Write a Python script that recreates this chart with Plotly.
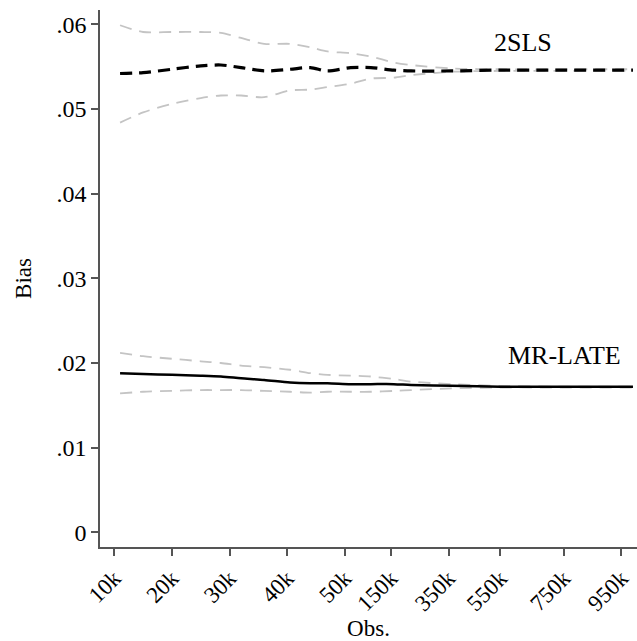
import plotly.graph_objects as go

# x positions (axis units) of the sampled points and tick labels
x_pos = [0.1, 0.5, 1.0, 1.5, 1.85, 2.2, 2.6, 3.05, 3.4, 3.7, 4.1, 4.45, 4.85, 5.15, 5.85, 6.7, 7.75, 9.0]
tick_pos = [0, 1, 2, 3, 4, 4.8, 5.8, 6.7, 7.8, 8.8]
tick_labels = ["10k", "20k", "30k", "40k", "50k", "150k", "350k", "550k", "750k", "950k"]

tsls_mid = [.0542, .0543, .0547, .0551, .0552, .0549, .0545, .0547, .0549, .0545, .0549, .0549, .0546, .0545, .0545, .0546, .0546, .0546]
tsls_hi = [.0599, .0591, .0591, .0591, .0590, .0584, .0577, .0577, .0573, .0568, .0566, .0562, .0555, .0552, .0548, .0547, .0547, .0547]
tsls_lo = [.0484, .0496, .0506, .0513, .0516, .0516, .0514, .0522, .0523, .0526, .0530, .0536, .0537, .0540, .0544, .0545, .0545, .0545]

mr_mid = [.0188, .0187, .0186, .0185, .0184, .0182, .0180, .0177, .0176, .0176, .0175, .0175, .0175, .0174, .0173, .0172, .0172, .0172]
mr_hi = [.0212, .0208, .0205, .0202, .0200, .0197, .0195, .0192, .0188, .0186, .0185, .0184, .0181, .0178, .0175, .0173, .0172, .0172]
mr_lo = [.0164, .0166, .0167, .0168, .0168, .0168, .0167, .0166, .0165, .0166, .0166, .0166, .0167, .0168, .0170, .0171, .0171, .0171]

y_ticks = [0, 0.01, 0.02, 0.03, 0.04, 0.05, 0.06]
y_tick_labels = ["0", ".01", ".02", ".03", ".04", ".05", ".06"]

FONT = "Liberation Serif"
GRAY = "#c4c4c4"
AXC = "#555555"

fig = go.Figure()

def add(y, color, width, dash):
    fig.add_trace(go.Scatter(x=x_pos, y=y, mode="lines",
                             line=dict(color=color, width=width, dash=dash, shape="spline", smoothing=0.8),
                             showlegend=False, hoverinfo="skip"))

add(tsls_hi, GRAY, 1.8, "12px,8px")
add(tsls_lo, GRAY, 1.8, "12px,8px")
add(mr_hi, GRAY, 1.8, "12px,8px")
add(mr_lo, GRAY, 1.8, "12px,8px")
add(tsls_mid, "black", 3.2, "12px,7px")
add(mr_mid, "black", 2.5, "solid")

fig.add_annotation(x=7.09, y=0.0579, text="2SLS", showarrow=False,
                   font=dict(family=FONT, size=26, color="black"))
fig.add_annotation(x=7.82, y=0.0209, text="MR-LATE", showarrow=False,
                   font=dict(family=FONT, size=26, color="black"))

fig.update_layout(
    width=637, height=641,
    margin=dict(l=100, r=0, t=10, b=94, autoexpand=False),
    paper_bgcolor="white", plot_bgcolor="white",
    font=dict(family=FONT, size=22, color="black"),
    xaxis=dict(range=[-0.248, 9.07], tickmode="array", tickvals=tick_pos, ticktext=tick_labels,
               tickangle=-45, showgrid=False, zeroline=False, showline=True, linecolor=AXC,
               linewidth=1.5, ticks="outside", ticklen=7, tickcolor=AXC, tickwidth=1.5,
               automargin=False,
               title=dict(text="Obs.", standoff=0, font=dict(family=FONT, size=23)),
               tickfont=dict(family=FONT, size=23)),
    yaxis=dict(range=[-0.00174, 0.0617], tickmode="array", tickvals=y_ticks, ticktext=y_tick_labels,
               showgrid=False, zeroline=False, showline=True, linecolor=AXC,
               linewidth=1.5, ticks="outside", ticklen=7, tickcolor=AXC, tickwidth=1.5,
               automargin=False,
               title=dict(text="Bias", standoff=18, font=dict(family=FONT, size=23)),
               tickfont=dict(family=FONT, size=24)),
)

fig.write_html("out.html", config={"displayModeBar": False},
               post_script="document.body.style.margin='0';document.body.style.overflow='hidden';")
